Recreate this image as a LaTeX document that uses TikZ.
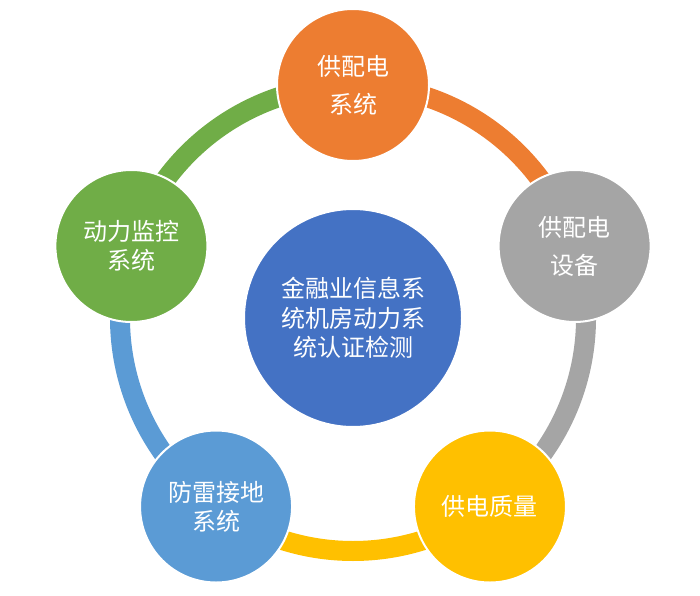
\documentclass[tikz,border=0pt]{standalone}
\usepackage{fontspec}
\usepackage{tikz}
\usepackage{xcolor}
\usetikzlibrary{calc, positioning}
\newfontfamily\cjk{Noto Sans CJK SC}

\definecolor{orangeC}{HTML}{ED7D31}
\definecolor{grayC}{HTML}{A5A5A5}
\definecolor{goldC}{HTML}{FFC000}
\definecolor{blueC}{HTML}{5B9BD5}
\definecolor{greenC}{HTML}{70AD47}
\definecolor{centerC}{HTML}{4472C4}

\tikzset{
    ring/.style={line width=20pt},
    item/.style={circle, draw=white, line width=2pt, minimum size=152pt, inner sep=0pt,
        text=white, align=center},
    hub/.style={item, minimum size=218pt}
}

\begin{document}
\begin{tikzpicture}[x=1pt, y=1pt]
                    \useasboundingbox (0, 0) rectangle (700, 595);

                    \coordinate (mid) at (353, 277);

                    \node[item, fill=orangeC] (gongpei) at ($(mid)+(90:233)$) {};
                    \node[item, fill=grayC] (shebei) at ($(mid)+(18:233)$) {};
                    \node[item, fill=goldC] (zhiliang) at ($(mid)+(-54:233)$) {};
                    \node[item, fill=blueC] (fanglei) at ($(mid)+(-126:233)$) {};
                    \node[item, fill=greenC] (jiankong) at ($(mid)+(162:233)$) {};

                    \draw[ring, orangeC] (gongpei.center) arc[start angle=90, end angle=18, radius=233];
                    \draw[ring, grayC] (shebei.center) arc[start angle=18, end angle=-54, radius=233];
                    \draw[ring, goldC] (zhiliang.center) arc[start angle=-54, end angle=-126, radius=233];
                    \draw[ring, blueC] (fanglei.center) arc[start angle=-126, end angle=-198, radius=233];
                    \draw[ring, greenC] (jiankong.center) arc[start angle=162, end angle=90, radius=233];

                    \node[item, fill=orangeC, font=\cjk\fontsize{24}{38}\selectfont] () at (gongpei) {供配电\\系统};
                    \node[item, fill=grayC, font=\cjk\fontsize{24}{38}\selectfont] () at (shebei) {供配电\\设备};
                    \node[item, fill=goldC, font=\cjk\fontsize{24}{30}\selectfont] () at (zhiliang) {供电质量};
                    \node[item, fill=blueC, font=\cjk\fontsize{24}{29}\selectfont] () at (fanglei) {防雷接地\\系统};
                    \node[item, fill=greenC, font=\cjk\fontsize{24}{29}\selectfont] () at (jiankong) {动力监控\\系统};

                    \node[hub, fill=centerC, font=\cjk\fontsize{24}{29.5}\selectfont] (jianche) at (mid) {金融业信息系\\统机房动力系\\统认证检测};
                \end{tikzpicture}
\end{document}
